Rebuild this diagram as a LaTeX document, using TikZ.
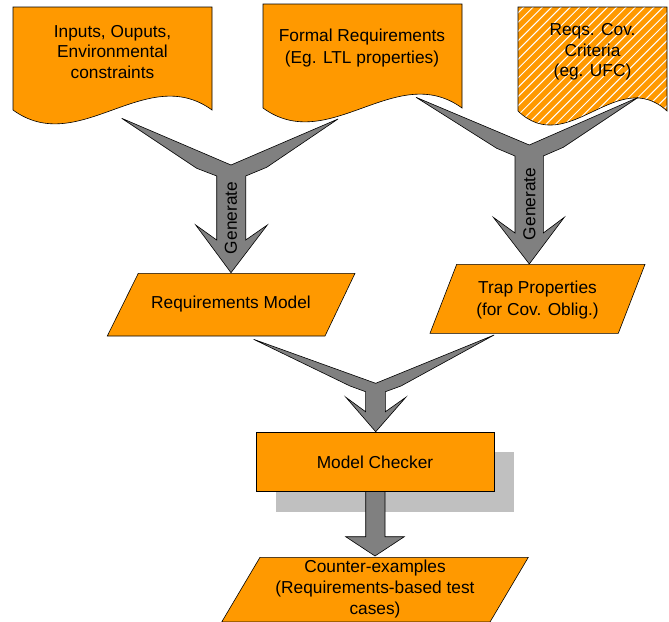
\documentclass[tikz,border=0pt]{standalone}
\usepackage{fontspec}
\setmainfont{Liberation Sans}
\definecolor{boxorange}{RGB}{255,153,0}
\definecolor{arrowgray}{RGB}{128,128,128}
\definecolor{shadowgray}{RGB}{192,192,192}
\begin{document}
\begin{tikzpicture}[x=1pt,y=-1pt,
  orangebox/.style={fill=boxorange,draw=black,line width=0.6pt},
  flow/.style={fill=arrowgray,draw=black,line width=0.6pt,line join=miter},
  txt/.style={font=\fontsize{17.3}{20.5}\selectfont,align=center,text=black,inner sep=0pt},
  txtwide/.style={txt,font=\fontsize{17.3}{22.5}\selectfont},
  stripe/.style={draw=white,line width=1pt}]
\useasboundingbox (0,0) rectangle (669,621);

% ---- input documents ----
\path[orangebox] (13,7) -- (212,7) -- (212,110)
  .. controls (146,62) and (79,158) .. (13,110) -- cycle;
\node[txt] (inputs) at (112.5,52) {Inputs, Ouputs,\\Environmental\\constraints};

\path[orangebox] (263,4) -- (462,4) -- (462,108)
  .. controls (396,60) and (329,156) .. (263,108) -- cycle;
\node[txtwide] (formal) at (362,48) {Formal Requirements\\(Eg. LTL properties)};

% hatched document
\path[fill=boxorange] (518,7) -- (667,7) -- (667,111)
  .. controls (617,65) and (568,159) .. (518,111) -- cycle;
\begin{scope}
  \clip (518,7) -- (667,7) -- (667,111)
    .. controls (617,65) and (568,159) .. (518,111) -- cycle;
  \foreach \k in {0,...,33}
    \draw[stripe] (368+\k*9.3,135) -- ++(150,-150);
\end{scope}
\draw[black,line width=0.6pt] (518,7) -- (667,7) -- (667,111)
  .. controls (617,65) and (568,159) .. (518,111) -- cycle;
\node[txt] (criteria) at (592.5,52) {Reqs. Cov.\\Criteria\\(eg. UFC)};

% ---- merging "Generate" arrows ----
\path[flow] (121.7,118.3) -- (231,165) -- (338,119) -- (266.7,167.3)
  -- (245.7,176) -- (245.7,240) -- (267.3,225) -- (231,272.7)
  -- (195.7,225) -- (216.7,240) -- (216.7,176) -- (196.7,168.3) -- cycle;
\node[txt,rotate=90] (gen1) at (231,218) {Generate};

\path[flow] (416,97.3) -- (529.3,145) -- (638.3,97.3) -- (563.3,147.3)
  -- (543.3,156) -- (543.3,233) -- (564.3,217.3) -- (529.3,264)
  -- (493.3,217.3) -- (515,233) -- (515,156) -- (496.7,148.3) -- cycle;
\node[txt,rotate=90] (gen2) at (529.3,204) {Generate};

% ---- generated artefacts ----
\path[orangebox] (138.3,273.3) -- (355,273.3) -- (325,336) -- (107.3,336) -- cycle;
\node[txt] (reqmodel) at (231,304) {Requirements Model};

\path[orangebox] (456.7,264.3) -- (645,264.3) -- (618.3,333.3) -- (430,333.3) -- cycle;
\node[txtwide] (trap) at (537.5,300) {Trap Properties\\(for Cov. Oblig.)};

% ---- merge into the model checker ----
\path[flow] (253.6,339.3) -- (375.7,383.3) -- (494.1,335) -- (401,386)
  -- (385.4,391.7) -- (385.4,411.7) -- (405.8,397.3) -- (375.7,431.7)
  -- (345.9,397.3) -- (365.6,411.7) -- (365.6,391.7) -- (350,386) -- cycle;

% ---- model checker with shadow ----
\fill[shadowgray] (275.7,452.3) rectangle (514,511.7);
\path[flow] (365.7,480) -- (385,480) -- (385,536.7) -- (404.3,536.7)
  -- (375,556) -- (345.7,536.7) -- (365.7,536.7) -- cycle;
\path[orangebox] (256,432.7) rectangle (494,491.7);
\node[txt] (checker) at (375,462) {Model Checker};

% ---- output ----
\path[orangebox] (260,557.3) -- (528.3,557.3) -- (490,622) -- (221.7,622) -- cycle;
\node[txt,font=\fontsize{17.3}{21}\selectfont] (counter) at (375,589)
  {Counter-examples\\(Requirements-based test\\cases)};
\end{tikzpicture}
\end{document}
